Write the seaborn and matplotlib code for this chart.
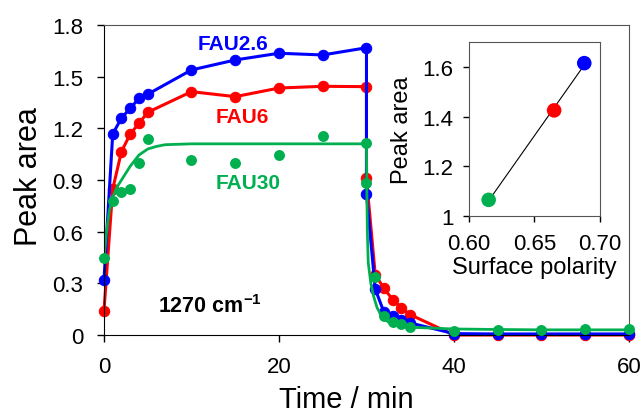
import matplotlib
matplotlib.use('Agg')
import matplotlib.pyplot as plt
import seaborn as sb
import pandas as pd

# time course, min
time = [0, 1, 2, 3, 4, 5, 10, 15, 20, 25, 30, 30, 31, 32, 33, 34, 35, 40, 45, 50, 55, 60]
fau26 = [0.32, 1.167, 1.26, 1.316, 1.374, 1.398, 1.539, 1.597, 1.636, 1.626, 1.668,
         0.82, 0.267, 0.132, 0.112, 0.089, 0.07, 0.008, 0.006, 0.006, 0.006, 0.006]
fau6 = [0.14, 0.848, 1.065, 1.167, 1.229, 1.293, 1.413, 1.384, 1.434, 1.444, 1.442,
        0.91, 0.35, 0.271, 0.205, 0.157, 0.118, 0.0, 0.0, 0.0, 0.0, 0.0]
fau30 = [0.445, 0.78, 0.829, 0.848, 0.997, 1.138, 1.016, 0.997, 1.047, 1.154, 1.113,
         0.88, 0.339, 0.109, 0.077, 0.064, 0.045, 0.025, 0.029, 0.03, 0.032, 0.035]

# fitted curve for FAU30
fit_time = [0, 0.3, 0.6, 1, 1.5, 2, 3, 4, 5, 6, 7, 10, 20, 30, 30.05, 30.1, 30.2, 30.5,
            30.8, 31.2, 31.7, 32.5, 33.8, 35, 40, 45, 50, 55, 60]
fit_fau30 = [0.445, 0.6, 0.72, 0.8, 0.86, 0.9, 0.98, 1.045, 1.08, 1.095, 1.105, 1.11, 1.11,
             1.11, 0.8, 0.6, 0.42, 0.3, 0.228, 0.16, 0.112, 0.075, 0.054, 0.045, 0.035,
             0.032, 0.03, 0.03, 0.03]

# inset
samples = ['FAU30', 'FAU6', 'FAU2.6']
polarity = [0.615, 0.665, 0.688]
plateau = [1.065, 1.425, 1.615]

blue, red, green = '#0000FF', '#FF0000', '#00B050'
colors = {'FAU2.6': blue, 'FAU6': red, 'FAU30': green}

plt.rcParams['font.family'] = ['Liberation Sans', 'DejaVu Sans']
plt.rcParams['mathtext.fontset'] = 'custom'
plt.rcParams['mathtext.rm'] = 'Liberation Sans'
plt.rcParams['mathtext.bf'] = 'Liberation Sans:bold'

fig = plt.figure(figsize=(6.43, 4.14), dpi=100)
ax = fig.add_axes([0.1617, 0.1884, 0.8165, 0.7488])

df = pd.DataFrame({'t': time, 'FAU2.6': fau26, 'FAU6': fau6, 'FAU30': fau30})
fit = pd.DataFrame({'t': fit_time, 'y': fit_fau30})

sb.lineplot(data=df, x='t', y='FAU6', ax=ax, color=red, lw=2.2, marker='o', ms=7.5,
            mec=red, estimator=None, sort=False, clip_on=False)
sb.lineplot(data=df, x='t', y='FAU2.6', ax=ax, color=blue, lw=2.2, marker='o', ms=7.5,
            mec=blue, estimator=None, sort=False, clip_on=False)
sb.lineplot(data=fit, x='t', y='y', ax=ax, color=green, lw=2.0, estimator=None, sort=False)
sb.scatterplot(data=df, x='t', y='FAU30', ax=ax, color=green, s=62, linewidth=0,
               clip_on=False, zorder=3)

ax.set_xlim(0, 60)
ax.set_ylim(0, 1.8)
ax.set_xticks([0, 20, 40, 60])
ax.set_yticks([0, 0.3, 0.6, 0.9, 1.2, 1.5, 1.8])
ax.set_yticklabels(['0', '0.3', '0.6', '0.9', '1.2', '1.5', '1.8'])
ax.tick_params(labelsize=16, length=5, width=1, color='black')
ax.tick_params(axis='x', pad=10)
ax.tick_params(axis='y', pad=10)
ax.set_xlabel('Time / min', fontsize=21)
ax.set_ylabel('Peak area', fontsize=22)
ax.xaxis.set_label_coords(0.461, -0.160)
ax.yaxis.set_label_coords(-0.114, 0.513)
for s in ['left', 'bottom']:
    ax.spines[s].set_color('black')
for s in ['top', 'right']:
    ax.spines[s].set_color('#555555')

ax.text(14.7, 1.69, 'FAU2.6', color=blue, fontsize=15, fontweight='bold', ha='center', va='center')
ax.text(15.8, 1.27, 'FAU6', color=red, fontsize=15, fontweight='bold', ha='center', va='center')
ax.text(16.5, 0.885, 'FAU30', color=green, fontsize=15, fontweight='bold', ha='center', va='center')
ax.text(6.2, 0.17, r'1270 cm$^{\mathbf{-1}}$', color='black', fontsize=15.5, fontweight='bold',
        ha='left', va='center')

# inset
ins = fig.add_axes([0.7294, 0.4758, 0.2037, 0.4203])
inset_df = pd.DataFrame({'sample': samples, 'polarity': polarity, 'area': plateau})
sb.regplot(data=inset_df, x='polarity', y='area', ax=ins, scatter=False, ci=None, truncate=True,
           line_kws={'color': 'black', 'lw': 0.8})
sb.scatterplot(data=inset_df, x='polarity', y='area', hue='sample', palette=colors, ax=ins,
               s=110, linewidth=0, legend=False, clip_on=False, zorder=3)
ins.set_xlim(0.6, 0.7)
ins.set_ylim(1.0, 1.7)
ins.set_xticks([0.60, 0.65, 0.70])
ins.set_xticklabels(['0.60', '0.65', '0.70'])
ins.set_yticks([1.0, 1.2, 1.4, 1.6])
ins.set_yticklabels(['1', '1.2', '1.4', '1.6'])
ins.tick_params(labelsize=16, length=4, width=1)
ins.tick_params(axis='x', pad=8)
ins.tick_params(axis='y', pad=7)
ins.set_xlabel('Surface polarity', fontsize=17, labelpad=2)
ins.set_ylabel('Peak area', fontsize=17, labelpad=7)
for s in ins.spines.values():
    s.set_color('#555555')

fig.savefig('out.png', dpi=100)
